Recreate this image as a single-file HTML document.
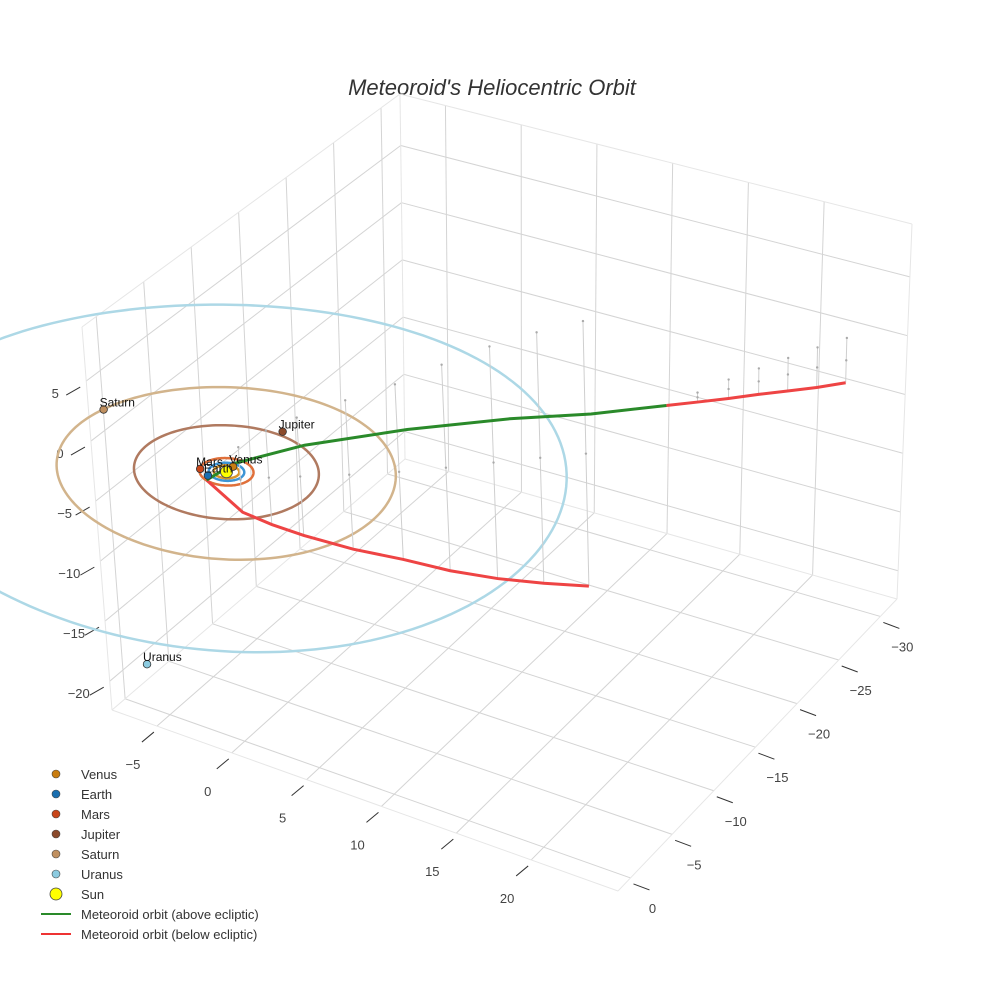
<!DOCTYPE html>
<html><head><meta charset="utf-8"><style>
html,body{margin:0;padding:0;background:#fff;}
svg{display:block;font-family:"Liberation Sans",sans-serif;}
</style></head><body>
<svg id="chart" width="984" height="984" viewBox="0 0 984 984">
<text x="492" y="95" text-anchor="middle" font-size="22" font-style="italic" fill="#333">Meteoroid's Heliocentric Orbit</text>
<g id="grid"></g>
<g id="ticks"></g>
<g id="orbits"></g>
<g id="stems"></g>
<g id="meteor"></g>
<g id="planets"></g>
<g id="legend"></g>
</svg>
<script>
// ---- data ----
const planetNames = ["Venus","Earth","Mars","Jupiter","Saturn","Uranus"];
const orbitRadii = [0.72, 1.0, 1.52, 5.2, 9.54, 19.2];
const planetX = [0.01, -0.64, -1.38, 0.3, -9.3, 7.0];
const planetY = [-0.7, 0.96, 0.58, -5.6, -2.0, 20.3];
const planetColors = ["#c97d10","#1a6fb0","#c8461a","#8b4a2b","#c09060","#8ccbe0"];
const orbitColors = ["#d9952a","#3d95d5","#e0703a","#b07a60","#d2b48c","#add8e6"];
const aboveX = [-0.45, 0.26, 3.19, 7.49, 11.66, 14.95, 17.4];
const aboveY = [1.43, -0.51, -3.32, -7.4, -11.66, -15.1, -19.3];
const aboveZ = [0, 0.5, 1.5, 2.0, 1.8, 1.2, 0];
const belowX = [-0.45, 1.1, 2.3, 3.7, 5.9, 8.1, 10.1, 12.1, 14.1, 16.1];
const belowY = [1.43, 0.3, -0.8, -1.9, -3.6, -5.4, -7.2, -9.1, -10.9, -12.6];
const belowZ = [0, -2.7, -3.9, -4.9, -6.2, -7.3, -8.6, -9.7, -10.5, -11.1];
const below2X = [17.4, 18.5, 19.6, 20.7, 21.8, 22.9, 24.0];
const below2Y = [-19.3, -20.9, -22.5, -24.0, -25.4, -26.8, -28.2];
const below2Z = [0, -0.4, -0.8, -1.1, -1.4, -1.7, -1.9];
const xTicks = [-5, 0, 5, 10, 15, 20];
const yTicks = [0, -5, -10, -15, -20, -25, -30];
const zTicks = [-20, -15, -10, -5, 0, 5];
const xRange = [-8, 25.8], yRange = [-32, 1.5], zRange = [-22.4, 9.5];

// ---- projection: trilinear map of the scene box corners ----
const SH = -6;
const cA=[400,100+SH], cB=[405,465+SH], cC=[912,230+SH], cD=[897,605+SH];
const cE=[82,333+SH], cF=[112,716+SH], cG=[600,508+SH], cH=[618,897+SH];
function lerp(p,q,t){return [p[0]+(q[0]-p[0])*t, p[1]+(q[1]-p[1])*t];}
function P(x,y,z){
 const u=(x-xRange[0])/(xRange[1]-xRange[0]), v=(y-yRange[0])/(yRange[1]-yRange[0]), w=(z-zRange[0])/(zRange[1]-zRange[0]);
 const front=lerp(lerp(cF,cE,w),lerp(cH,cG,w),u);
 const back=lerp(lerp(cB,cA,w),lerp(cD,cC,w),u);
 return lerp(back,front,v);
}
const NS="http://www.w3.org/2000/svg";
function mk(tag, attrs, parent){const e=document.createElementNS(NS,tag);for(const k in attrs)e.setAttribute(k,attrs[k]);parent.appendChild(e);return e;}
function line3(a,b,stroke,w,parent){const p=P(...a),q=P(...b);return mk('line',{x1:p[0],y1:p[1],x2:q[0],y2:q[1],stroke:stroke,'stroke-width':w},parent);}
function pts(xs,ys,zs){return xs.map((x,i)=>P(x,ys[i],zs[i]).join(',')).join(' ');}

const grid=document.getElementById('grid');
const gc="#d4d4d4";
const [x0,x1]=xRange,[y0,y1]=yRange,[z0,z1]=zRange;
xTicks.forEach(x=>{let l=line3([x,y0,z0],[x,y1,z0],gc,1,grid);
 
 
 l=line3([x,y0,z0],[x,y0,z1],gc,1,grid);
 
 });
yTicks.forEach(y=>{let l=line3([x0,y,z0],[x1,y,z0],gc,1,grid);
 
 
 l=line3([x0,y,z0],[x0,y,z1],gc,1,grid);
 
 });
zTicks.forEach(z=>{let l=line3([x0,y0,z],[x1,y0,z],gc,1,grid);
 
 
 l=line3([x0,y0,z],[x0,y1,z],gc,1,grid);
 
 });
// faint box edges
[[[x0,y0,z1],[x1,y0,z1]],[[x0,y0,z1],[x0,y1,z1]],[[x1,y0,z1],[x1,y0,z0]],[[x0,y1,z1],[x0,y1,z0]],
 [[x0,y0,z0],[x0,y0,z1]],[[x0,y1,z0],[x1,y1,z0]],[[x1,y1,z0],[x1,y0,z0]],[[x0,y0,z0],[x1,y0,z0]],[[x0,y0,z0],[x0,y1,z0]]].forEach(e=>{
 const l=line3(e[0],e[1],"#e6e6e6",1,grid);
 
 });

const ticks=document.getElementById('ticks');
function tickLabel(p,txt,name){const t=mk('text',{x:p[0],y:p[1]+5,'text-anchor':'middle','font-size':13,fill:'#444'},ticks);t.textContent=txt;
 
 }
const fmt=v=>v<0?'\u2212'+(-v):''+v;
function tickMark(a,dx,dy,name){const l=mk('line',{x1:a[0],y1:a[1],x2:a[0]+dx,y2:a[1]+dy,stroke:'#333','stroke-width':1},ticks);
 
 }
xTicks.forEach(x=>{const a=P(x,y1,z0);tickMark([a[0]-3,a[1]+6],-12,10,'x-tick');tickLabel([a[0]-24,a[1]+38],fmt(x),'x-tick-label');});
yTicks.forEach(y=>{const a=P(x1,y,z0);tickMark([a[0]+3,a[1]+6],16,6,'y-tick');tickLabel([a[0]+22,a[1]+30],fmt(y),'y-tick-label');});
zTicks.forEach(z=>{const a=P(x0,y1,z);tickMark([a[0]-6,a[1]+6],-14,8,'z-tick');tickLabel([a[0]-31,a[1]+12],fmt(z),'z-tick-label');});

// planet orbits
const orbits=document.getElementById('orbits');
orbitRadii.forEach((r,i)=>{const s=[];for(let k=0;k<=180;k++){const t=k/180*2*Math.PI;s.push(P(r*Math.cos(t),r*Math.sin(t),0).join(','));}
 const pl=mk('polyline',{points:s.join(' '),fill:'none',stroke:orbitColors[i],'stroke-width':2.5},orbits);
 
 });

// stems from below-ecliptic points to mirror
const stems=document.getElementById('stems');
function drawStems(xs,ys,zs){xs.forEach((x,i)=>{if(zs[i]===0)return;const a=P(x,ys[i],zs[i]),b=P(x,ys[i],-zs[i]),m=P(x,ys[i],0);
 const l=mk('line',{x1:a[0],y1:a[1],x2:b[0],y2:b[1],stroke:'#cfcfcf','stroke-width':1},stems);
 
 
 [b,m].forEach(p=>{const c=mk('circle',{cx:p[0],cy:p[1],r:1.2,fill:'#aaa'},stems);
  
  });});}
drawStems(belowX,belowY,belowZ);drawStems(below2X,below2Y,below2Z);

const met=document.getElementById('meteor');
let m=mk('polyline',{points:pts(belowX,belowY,belowZ),fill:'none',stroke:'#ee4444','stroke-width':3},met);


m=mk('polyline',{points:pts(below2X,below2Y,below2Z),fill:'none',stroke:'#ee4444','stroke-width':3},met);


m=mk('polyline',{points:pts(aboveX,aboveY,aboveZ),fill:'none',stroke:'#2a8a2a','stroke-width':3},met);



// planets + sun
const pg=document.getElementById('planets');
const sp=P(0,0,0);
let sun=mk('circle',{cx:sp[0],cy:sp[1],r:6,fill:'#ffff00',stroke:'#555','stroke-width':1},pg);


planetNames.forEach((n,i)=>{const p=P(planetX[i],planetY[i],0);
 const c=mk('circle',{cx:p[0],cy:p[1],r:3.8,fill:planetColors[i],stroke:'#333','stroke-width':0.8},pg);
 
 
 const t=mk('text',{x:p[0]-4,y:p[1]-3,'font-size':12,fill:'#111'},pg);t.textContent=n;
 
 });

// legend
const lg=document.getElementById('legend');
const legItems=planetNames.concat(["Sun","Meteoroid orbit (above ecliptic)","Meteoroid orbit (below ecliptic)"]);
legItems.forEach((n,i)=>{const y=774+i*20;
 let mark;
 if(i<6){mark=mk('circle',{cx:56,cy:y,r:4,fill:planetColors[i],stroke:'#444','stroke-width':0.6},lg);}
 else if(i===6){mark=mk('circle',{cx:56,cy:y,r:6,fill:'#ffff00',stroke:'#444','stroke-width':0.8},lg);}
 else{mark=mk('line',{x1:41,y1:y,x2:71,y2:y,stroke:i===7?'#2a8a2a':'#ee3333','stroke-width':2},lg);}
 
 
 const t=mk('text',{x:81,y:y+5,'font-size':13,fill:'#333'},lg);t.textContent=n;
 
 });
</script>
</body></html>
